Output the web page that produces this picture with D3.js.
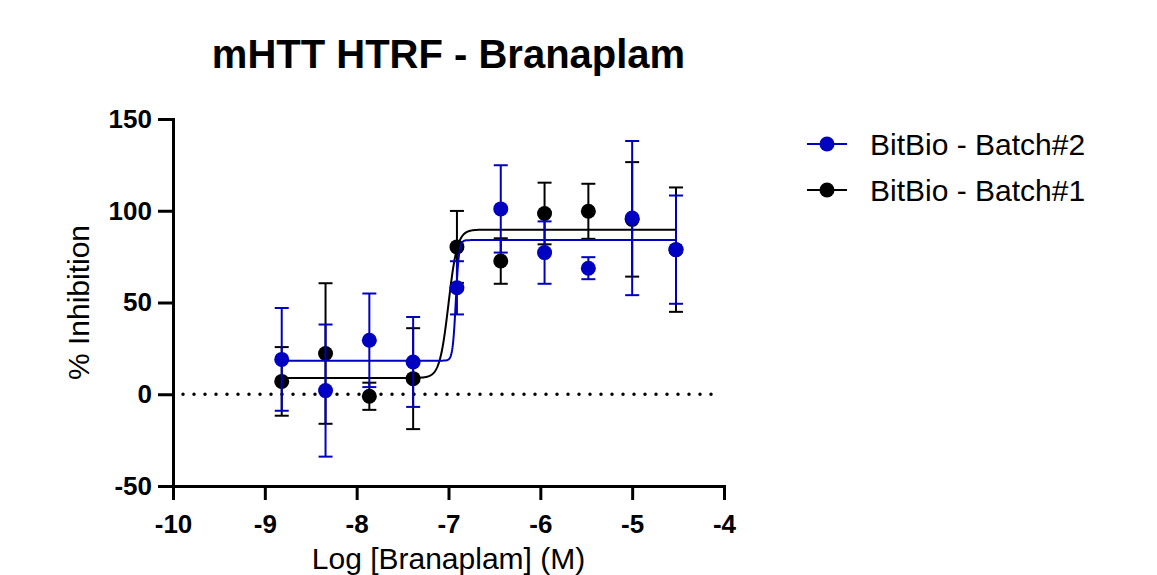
<!DOCTYPE html>
<html>
<head>
<meta charset="utf-8">
<script src="https://cdn.jsdelivr.net/npm/d3@7"></script>
<style>
  body { margin: 0; background: #fff; }
  svg { display: block; font-family: "Liberation Sans", Arial, sans-serif; }
  .axis path, .axis line { stroke: #000; stroke-width: 3; }
  .axis text { font-size: 26px; font-weight: bold; fill: #000; }
</style>
</head>
<body>
<svg id="chart" width="1157" height="575"></svg>
<script>
// Data
const logConc = [-8.816, -8.339, -7.862, -7.385, -6.908, -6.431, -5.954, -5.477, -5.0, -4.523];

const batch2Mean = [19, 2, 29.4, 17.6, 58, 101, 77.2, 68.7, 96, 78.8];
const batch2Err  = [28, 36, 25.5, 24.5, 14.5, 23.8, 17, 6, 42, 29.5];

const batch1Mean = [7, 22.2, -1.1, 8.5, 80.3, 72.6, 98.5, 99.7, 95.3, 78.8];
const batch1Err  = [18.7, 38.3, 7.4, 27.5, 19.6, 12.4, 16.8, 15, 31.2, 33.9];

// fitted 4PL parameters: [bottom, top, logEC50, hill]
const batch2Fit = [18.3, 84, -6.92, 25];
const batch1Fit = [8.9, 89.7, -7.0, 9];

const xTicks = [-10, -9, -8, -7, -6, -5, -4];
const yTicks = [-50, 0, 50, 100, 150];

const series = [
  { name: "BitBio - Batch#1", color: "#000000", mean: batch1Mean, err: batch1Err, fit: batch1Fit },
  { name: "BitBio - Batch#2", color: "#0000c0", mean: batch2Mean, err: batch2Err, fit: batch2Fit }
];

const svg = d3.select("#chart");

const x = d3.scaleLinear().domain([-10, -4]).range([173, 724]);
const y = d3.scaleLinear().domain([-50, 150]).range([486, 119]);

// title
svg.append("text")
  .attr("x", (x.range()[0] + x.range()[1]) / 2)
  .attr("y", 68)
  .attr("text-anchor", "middle")
  .style("font-size", "40px")
  .style("font-weight", "bold")
  .text("mHTT HTRF - Branaplam");

// zero line (dotted)
svg.append("line")
  .attr("x1", x(-10) + 10).attr("x2", x(-4) - 10)
  .attr("y1", y(0)).attr("y2", y(0))
  .attr("stroke", "#000")
  .attr("stroke-width", 3.5)
  .attr("stroke-linecap", "round")
  .attr("stroke-dasharray", "0 11");

// axes
svg.append("g")
  .attr("class", "axis")
  .attr("transform", `translate(0,${y(-50)})`)
  .call(d3.axisBottom(x).tickValues(xTicks).tickSize(14).tickSizeOuter(0).tickPadding(15).tickFormat(d3.format("d")));

svg.append("g")
  .attr("class", "axis")
  .attr("transform", `translate(${x(-10)},0)`)
  .call(d3.axisLeft(y).tickValues(yTicks).tickSize(15).tickSizeOuter(0).tickPadding(6).tickFormat(d3.format("d")));

svg.selectAll(".axis .domain").attr("stroke-linecap", "square");
svg.selectAll(".axis text").text(function(){ return this.textContent.replace("\u2212", "-"); });

// axis titles
svg.append("text")
  .attr("x", (x.range()[0] + x.range()[1]) / 2)
  .attr("y", 569)
  .attr("text-anchor", "middle")
  .style("font-size", "30px")
  .text("Log [Branaplam] (M)");

svg.append("text")
  .attr("transform", `translate(89,${(y(-50) + y(150)) / 2}) rotate(-90)`)
  .attr("text-anchor", "middle")
  .style("font-size", "30px")
  .text("% Inhibition");

// curves + points
const hill = (p, v) => p[0] + (p[1] - p[0]) / (1 + Math.pow(10, (p[2] - v) * p[3]));
const line = d3.line().x(d => x(d[0])).y(d => y(d[1]));
const xs = d3.range(logConc[0], logConc[logConc.length - 1] + 0.001, 0.004);

series.forEach(s => {
  const g = svg.append("g");
  g.append("path")
    .datum(xs.map(v => [v, hill(s.fit, v)]))
    .attr("d", line)
    .attr("fill", "none")
    .attr("stroke", s.color)
    .attr("stroke-width", 2);

  const pts = logConc.map((c, i) => ({ c, m: s.mean[i], e: s.err[i] }));

  const eb = g.selectAll(".eb").data(pts).join("g")
    .attr("stroke", s.color).attr("stroke-width", 2);
  eb.append("line")
    .attr("x1", d => x(d.c)).attr("x2", d => x(d.c))
    .attr("y1", d => y(d.m - d.e)).attr("y2", d => y(d.m + d.e));
  eb.append("line")
    .attr("x1", d => x(d.c) - 7).attr("x2", d => x(d.c) + 7)
    .attr("y1", d => y(d.m + d.e)).attr("y2", d => y(d.m + d.e));
  eb.append("line")
    .attr("x1", d => x(d.c) - 7).attr("x2", d => x(d.c) + 7)
    .attr("y1", d => y(d.m - d.e)).attr("y2", d => y(d.m - d.e));

  g.selectAll("circle").data(pts).join("circle")
    .attr("cx", d => x(d.c))
    .attr("cy", d => y(d.m))
    .attr("r", 7.5)
    .attr("fill", s.color);
});

// legend
const legend = svg.append("g").attr("transform", "translate(807,144)");
const items = legend.selectAll("g").data([series[1], series[0]]).join("g")
  .attr("transform", (d, i) => `translate(0,${i * 46})`);
items.append("line")
  .attr("x1", 0).attr("x2", 40)
  .attr("stroke", d => d.color).attr("stroke-width", 2);
items.append("circle")
  .attr("cx", 20).attr("r", 7.5)
  .attr("fill", d => d.color);
items.append("text")
  .attr("x", 63).attr("y", 11)
  .style("font-size", "30px")
  .text(d => d.name);
</script>
</body>
</html>
